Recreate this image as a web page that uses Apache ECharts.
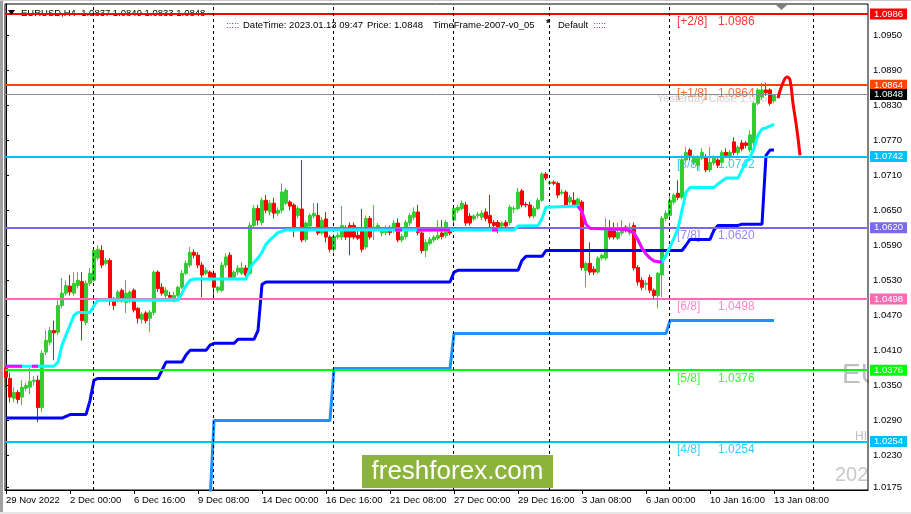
<!DOCTYPE html>
<html><head><meta charset="utf-8">
<script src="https://cdn.jsdelivr.net/npm/echarts/dist/echarts.min.js"></script>
<style>html,body{margin:0;padding:0;background:#fff}#c{width:911px;height:514px}</style>
</head><body><div id="c"></div>
<script>
// ---------------- DATA ----------------
const symbolName = 'EURUSD,H4';
const infoDateTime = 'DateTime: 2023.01.13 09:47';
const infoPrice = 'Price: 1.0848';
const infoFrame = 'TimeFrame-2007-v0_05';
const infoMode = 'Default';
const yesterdayCloseText = 'Yesterday Close 1.0853';

const xTickLabels = ['29 Nov 2022','2 Dec 00:00','6 Dec 16:00','9 Dec 08:00','14 Dec 00:00','16 Dec 16:00','21 Dec 08:00','27 Dec 00:00','29 Dec 16:00','3 Jan 08:00','6 Jan 00:00','10 Jan 16:00','13 Jan 08:00'];
const barsPerTick = 16;
const yTickValues = [1.0950,1.0890,1.0830,1.0770,1.0710,1.0650,1.0590,1.0530,1.0470,1.0410,1.0350,1.0290,1.0230,1.0175];
const weekStartBars = [22,52,82,112,136,166,202];

// H4 candles: [open, close, low, high]
const candles = [
[1.0379,1.0364,1.0347,1.0383],[1.0362,1.0330,1.0321,1.0372],[1.0328,1.0338,1.0321,1.0347],[1.0338,1.0326,1.0319,1.0342],
[1.0330,1.0347,1.0316,1.0359],[1.0345,1.0350,1.0340,1.0355],[1.0347,1.0357,1.0335,1.0381],[1.0357,1.0359,1.0350,1.0366],
[1.0359,1.0312,1.0287,1.0367],[1.0312,1.0405,1.0304,1.0410],[1.0407,1.0427,1.0402,1.0444],[1.0424,1.0444,1.0419,1.0450],
[1.0444,1.0440,1.0393,1.0461],[1.0441,1.0487,1.0436,1.0496],[1.0487,1.0508,1.0482,1.0534],[1.0508,1.0521,1.0504,1.0530],
[1.0520,1.0510,1.0504,1.0539],[1.0508,1.0525,1.0504,1.0544],[1.0521,1.0530,1.0516,1.0544],[1.0528,1.0461,1.0427,1.0544],
[1.0458,1.0525,1.0453,1.0530],[1.0525,1.0542,1.0520,1.0551],[1.0530,1.0581,1.0527,1.0587],[1.0568,1.0583,1.0564,1.0590],
[1.0581,1.0556,1.0551,1.0590],[1.0559,1.0564,1.0556,1.0568],[1.0564,1.0499,1.0487,1.0568],[1.0499,1.0487,1.0479,1.0501],
[1.0496,1.0510,1.0492,1.0513],[1.0513,1.0496,1.0492,1.0516],[1.0492,1.0508,1.0474,1.0530],[1.0496,1.0510,1.0491,1.0513],
[1.0513,1.0479,1.0475,1.0516],[1.0482,1.0465,1.0456,1.0484],[1.0463,1.0472,1.0456,1.0475],[1.0474,1.0461,1.0456,1.0477],
[1.0465,1.0475,1.0441,1.0479],[1.0475,1.0544,1.0470,1.0547],[1.0544,1.0516,1.0510,1.0547],[1.0518,1.0508,1.0504,1.0525],
[1.0504,1.0513,1.0499,1.0518],[1.0504,1.0501,1.0496,1.0510],[1.0494,1.0504,1.0492,1.0510],[1.0504,1.0518,1.0501,1.0521],
[1.0518,1.0542,1.0515,1.0547],[1.0542,1.0559,1.0539,1.0564],[1.0556,1.0578,1.0552,1.0587],[1.0578,1.0573,1.0568,1.0583],
[1.0573,1.0556,1.0551,1.0578],[1.0556,1.0539,1.0501,1.0561],[1.0542,1.0547,1.0539,1.0552],[1.0544,1.0535,1.0530,1.0547],
[1.0542,1.0518,1.0504,1.0547],[1.0513,1.0518,1.0508,1.0521],[1.0513,1.0556,1.0510,1.0561],[1.0556,1.0570,1.0552,1.0576],
[1.0573,1.0535,1.0530,1.0578],[1.0535,1.0544,1.0530,1.0547],[1.0544,1.0551,1.0539,1.0556],[1.0542,1.0551,1.0539,1.0561],
[1.0551,1.0539,1.0535,1.0556],[1.0542,1.0624,1.0539,1.0629],[1.0624,1.0653,1.0619,1.0659],[1.0653,1.0633,1.0624,1.0659],
[1.0629,1.0667,1.0624,1.0672],[1.0667,1.0650,1.0645,1.0676],[1.0647,1.0662,1.0641,1.0667],[1.0662,1.0645,1.0636,1.0671],
[1.0645,1.0650,1.0640,1.0655],[1.0650,1.0681,1.0645,1.0696],[1.0662,1.0684,1.0659,1.0688],[1.0664,1.0657,1.0650,1.0667],
[1.0659,1.0621,1.0604,1.0662],[1.0641,1.0653,1.0636,1.0657],[1.0652,1.0599,1.0595,1.0736],[1.0600,1.0628,1.0595,1.0631],
[1.0623,1.0641,1.0619,1.0645],[1.0640,1.0645,1.0636,1.0662],[1.0641,1.0611,1.0607,1.0662],[1.0611,1.0633,1.0607,1.0638],
[1.0635,1.0604,1.0595,1.0647],[1.0604,1.0583,1.0578,1.0607],[1.0583,1.0605,1.0578,1.0609],[1.0604,1.0607,1.0600,1.0612],
[1.0604,1.0624,1.0599,1.0657],[1.0619,1.0604,1.0599,1.0624],[1.0624,1.0604,1.0573,1.0629],[1.0624,1.0604,1.0600,1.0629],
[1.0607,1.0602,1.0599,1.0616],[1.0619,1.0583,1.0578,1.0652],[1.0587,1.0636,1.0583,1.0641],[1.0636,1.0604,1.0600,1.0640],
[1.0616,1.0621,1.0599,1.0659],[1.0619,1.0624,1.0616,1.0628],[1.0611,1.0616,1.0605,1.0621],[1.0612,1.0619,1.0607,1.0624],
[1.0619,1.0612,1.0607,1.0624],[1.0616,1.0628,1.0611,1.0633],[1.0628,1.0599,1.0595,1.0636],[1.0599,1.0605,1.0595,1.0609],
[1.0605,1.0629,1.0600,1.0633],[1.0628,1.0641,1.0623,1.0645],[1.0638,1.0647,1.0633,1.0655],[1.0647,1.0612,1.0607,1.0659],
[1.0611,1.0581,1.0576,1.0616],[1.0581,1.0595,1.0570,1.0600],[1.0593,1.0600,1.0590,1.0604],[1.0599,1.0604,1.0595,1.0607],
[1.0602,1.0607,1.0599,1.0633],[1.0611,1.0605,1.0600,1.0633],[1.0607,1.0629,1.0602,1.0633],[1.0616,1.0611,1.0607,1.0621],
[1.0633,1.0653,1.0628,1.0659],[1.0650,1.0655,1.0645,1.0659],[1.0653,1.0662,1.0650,1.0667],[1.0659,1.0628,1.0623,1.0664],
[1.0640,1.0628,1.0624,1.0645],[1.0635,1.0640,1.0631,1.0643],[1.0641,1.0643,1.0636,1.0647],[1.0638,1.0645,1.0633,1.0650],
[1.0647,1.0636,1.0631,1.0653],[1.0641,1.0628,1.0621,1.0676],[1.0629,1.0624,1.0619,1.0633],[1.0629,1.0616,1.0611,1.0633],
[1.0623,1.0628,1.0619,1.0631],[1.0629,1.0623,1.0619,1.0633],[1.0629,1.0655,1.0624,1.0659],[1.0652,1.0653,1.0645,1.0657],
[1.0653,1.0681,1.0650,1.0688],[1.0683,1.0659,1.0655,1.0686],[1.0660,1.0659,1.0655,1.0664],[1.0659,1.0640,1.0636,1.0664],
[1.0640,1.0653,1.0636,1.0657],[1.0653,1.0667,1.0650,1.0671],[1.0667,1.0712,1.0664,1.0715],[1.0712,1.0705,1.0701,1.0715],
[1.0696,1.0698,1.0693,1.0701],[1.0698,1.0696,1.0693,1.0701],[1.0696,1.0676,1.0671,1.0699],[1.0679,1.0681,1.0676,1.0686],
[1.0681,1.0659,1.0655,1.0684],[1.0664,1.0672,1.0660,1.0676],[1.0667,1.0659,1.0655,1.0681],[1.0659,1.0669,1.0655,1.0672],
[1.0664,1.0552,1.0547,1.0667],[1.0547,1.0559,1.0518,1.0562],[1.0559,1.0544,1.0539,1.0595],[1.0549,1.0544,1.0539,1.0554],
[1.0544,1.0568,1.0541,1.0571],[1.0568,1.0573,1.0564,1.0576],[1.0568,1.0616,1.0564,1.0636],[1.0616,1.0604,1.0600,1.0633],
[1.0616,1.0604,1.0600,1.0629],[1.0602,1.0612,1.0599,1.0629],[1.0611,1.0616,1.0607,1.0633],[1.0621,1.0616,1.0612,1.0624],
[1.0611,1.0619,1.0607,1.0628],[1.0624,1.0551,1.0547,1.0629],[1.0552,1.0527,1.0521,1.0556],[1.0530,1.0518,1.0513,1.0535],
[1.0523,1.0525,1.0513,1.0530],[1.0535,1.0513,1.0508,1.0540],[1.0513,1.0504,1.0496,1.0516],[1.0504,1.0542,1.0482,1.0544],
[1.0539,1.0636,1.0501,1.0640],[1.0636,1.0645,1.0631,1.0650],[1.0641,1.0667,1.0636,1.0674],[1.0664,1.0676,1.0660,1.0679],
[1.0679,1.0672,1.0667,1.0701],[1.0672,1.0736,1.0669,1.0744],[1.0736,1.0749,1.0732,1.0758],[1.0753,1.0744,1.0736,1.0756],
[1.0732,1.0739,1.0727,1.0744],[1.0727,1.0739,1.0719,1.0744],[1.0739,1.0749,1.0736,1.0756],[1.0741,1.0719,1.0715,1.0746],
[1.0719,1.0732,1.0715,1.0758],[1.0731,1.0739,1.0727,1.0744],[1.0736,1.0727,1.0722,1.0739],[1.0732,1.0749,1.0729,1.0753],
[1.0749,1.0744,1.0739,1.0756],[1.0741,1.0749,1.0736,1.0753],[1.0767,1.0749,1.0744,1.0775],[1.0749,1.0758,1.0744,1.0761],
[1.0765,1.0755,1.0751,1.0770],[1.0765,1.0761,1.0756,1.0768],[1.0753,1.0779,1.0749,1.0787],[1.0765,1.0833,1.0760,1.0836],
[1.0833,1.0856,1.0830,1.0859],[1.0844,1.0856,1.0839,1.0868],[1.0856,1.0851,1.0846,1.0868],[1.0856,1.0833,1.0829,1.0859],
[1.0837,1.0848,1.0833,1.0849]
];

// Murrey math levels
const levelNames = ['[+2/8]','[+1/8]','[8/8]','[7/8]','[6/8]','[5/8]','[4/8]'];
const levelValues = [1.0986,1.0864,1.0742,1.0620,1.0498,1.0376,1.0254];
const bidPrice = 1.0848;

// indicator lines: [bar index, price]
const trendLine = [[0,1.0383],[12,1.0383],[13,1.0390],[14,1.0419],[15,1.0436],[16,1.0453],[17,1.0470],[18,1.0475],[21,1.0475],[22,1.0487],[23,1.0496],[43,1.0496],[44,1.0508],[45,1.0521],[46,1.0530],[47,1.0532],[60,1.0532],[61,1.0551],[62,1.0561],[63,1.0568],[64,1.0578],[65,1.0592],[66,1.0599],[67,1.0605],[68,1.0612],[69,1.0614],[70,1.0616],[127,1.0616],[128,1.0623],[133,1.0624],[134,1.0636],[135,1.0655],[143,1.0657],[144,1.0647],[145,1.0626],[146,1.0619],[155,1.0617],[157,1.0611],[158,1.0599],[159,1.0585],[160,1.0575],[161,1.0568],[162,1.0563],[164,1.0561],[165,1.0573],[166,1.0587],[167,1.0602],[168,1.0619],[169,1.0650],[170,1.0681],[171,1.0689],[177,1.0689],[178,1.0695],[179,1.0700],[180,1.0705],[183,1.0705],[184,1.0719],[185,1.0732],[186,1.0741],[187,1.0756],[188,1.0779],[189,1.0789],[190,1.0791],[191,1.0794],[192,1.0797]];
const trendDownParts = [
  [[0,1.0383],[4,1.0383]],
  [[6.5,1.0383],[8,1.0383]],
  [[97.25,1.0616],[99,1.0616]],
  [[102.75,1.0616],[111,1.0616]],
  [[121.5,1.0616],[123,1.0616]],
  [[143,1.0657],[144,1.0647],[145,1.0626],[146,1.0619],[155,1.0617],[157,1.0611],[158,1.0599],[159,1.0585],[160,1.0575],[161,1.0568],[162,1.0563],[164,1.0561]]
];
const stopLine = [[0,1.0294],[14,1.0294],[15,1.0297],[16,1.0300],[20,1.0300],[21,1.0324],[22,1.0359],[23,1.0362],[38,1.0362],[39,1.0376],[40,1.0390],[44,1.0390],[45,1.0402],[46,1.0410],[50,1.0410],[51,1.0419],[52,1.0422],[57,1.0422],[58,1.0429],[62,1.0429],[63,1.0444],[64,1.0523],[65,1.0527],[111,1.0527],[112,1.0544],[113,1.0547],[128,1.0547],[129,1.0564],[130,1.0571],[134,1.0571],[135,1.0581],[169,1.0581],[170,1.0590],[171,1.0600],[176,1.0600],[177,1.0616],[178,1.0624],[183,1.0624],[184,1.0626],[189,1.0626],[190,1.0744],[191,1.0753],[192,1.0753]];
const slowStopLine = [[51,1.0150],[52,1.0290],[81,1.0290],[82,1.0379],[111,1.0379],[112,1.0439],[165,1.0439],[166,1.0461],[192,1.0461]];
const forecastLine = [[193,1.0842],[194,1.0864],[195.25,1.0878],[196,1.0873],[196.75,1.0833],[197.75,1.0787],[198.5,1.0744]];

// ---------------- STYLE ----------------
const levelColors = ['#ff0000','#ff4500','#00bfff','#7b68ee','#ff69b4','#00ff00','#00bfff'];
const FONT = '"Liberation Sans", Arial, sans-serif';
const X_MIN = -0.25, X_MAX = 215.5, Y_MIN = 1.01709, Y_MAX = 1.10031;
const NAME_X = 167.75, VALUE_X = 178, YC_X = 162.75;

const chart = echarts.init(document.getElementById('c'), null, {renderer:'canvas', width:911, height:514});
const xTickIdx = xTickLabels.map((_, k) => k * barsPerTick);
const last = candles[candles.length - 1];
const headerText = symbolName + '  ' + [last[0], last[3], last[2], last[1]].map(v => v.toFixed(4)).join(' ');

const downData = [];
trendDownParts.forEach((part, k) => {
  if (k > 0) downData.push([part[0][0] - 0.01, null]);
  part.forEach(p => downData.push(p));
});

const boxLabel = (text, bg) => ({
  show: true, position: 'end', distance: 2, formatter: text, color: '#fff',
  backgroundColor: bg, padding: [1, 4, 0, 4], lineHeight: 10, fontSize: 9.5, fontFamily: FONT
});
const lineMarks = levelValues.map((v, k) => ({
  yAxis: v,
  lineStyle: {color: levelColors[k], width: 2, type: 'solid'},
  label: boxLabel(v.toFixed(4), levelColors[k])
}));
lineMarks.push({
  yAxis: bidPrice,
  lineStyle: {color: '#8c8c8c', width: 1, type: 'solid'},
  label: boxLabel(bidPrice.toFixed(4), '#000')
});
const sepMarks = weekStartBars.map(b => ({
  xAxis: b - 0.25,
  lineStyle: {color: '#000', width: 1, type: [3, 3]},
  label: {show: false}
}));

const lineSeries = (data, color, z, extra) => Object.assign({
  type: 'line', data: data, showSymbol: false, symbol: 'none', z: z,
  lineStyle: {color: color, width: 3}, itemStyle: {color: color}, connectNulls: false, silent: true
}, extra || {});

const option = {
  animation: false,
  backgroundColor: '#ffffff',
  grid: {left: 5, right: 43, top: 4, bottom: 24, show: true, borderColor: '#000', borderWidth: 1},
  xAxis: {
    type: 'value', min: X_MIN, max: X_MAX,
    axisLine: {show: true, lineStyle: {color: '#000', width: 1}},
    axisTick: {show: true, customValues: xTickIdx, length: 4, lineStyle: {color: '#000'}},
    axisLabel: {show: true, customValues: xTickIdx, align: 'left', margin: 5, color: '#000', fontSize: 9.5, fontFamily: FONT,
      formatter: v => xTickLabels[Math.round(v / barsPerTick)] || ''},
    splitLine: {show: false}
  },
  yAxis: {
    type: 'value', position: 'right', min: Y_MIN, max: Y_MAX,
    axisLine: {show: true, lineStyle: {color: '#000', width: 1}},
    axisTick: {show: true, customValues: yTickValues, length: 3, lineStyle: {color: '#000'}},
    axisLabel: {show: true, customValues: yTickValues, margin: 5, color: '#000', fontSize: 9.5, fontFamily: FONT,
      formatter: v => v.toFixed(4)},
    splitLine: {show: false}
  },
  series: [
    { // level captions (drawn under candles)
      type: 'scatter', z: 1, symbolSize: 0, silent: true,
      data: levelValues.map((v, k) => ({value: [NAME_X, v], label: {color: levelColors[k]}})),
      label: {show: true, position: 'right', distance: 0, offset: [0, 8], fontSize: 12, fontFamily: FONT,
        formatter: p => levelNames[p.dataIndex]}
    },
    {
      type: 'scatter', z: 1, symbolSize: 0, silent: true,
      data: levelValues.map((v, k) => ({value: [VALUE_X, v], label: {color: levelColors[k]}})),
      label: {show: true, position: 'right', distance: 0, offset: [0, 8], fontSize: 12, fontFamily: FONT,
        formatter: p => levelValues[p.dataIndex].toFixed(4)}
    },
    {
      type: 'scatter', z: 1, symbolSize: 0, silent: true,
      data: [[YC_X, bidPrice]],
      label: {show: true, position: 'right', distance: 0, offset: [0, 4], fontSize: 11, fontFamily: FONT,
        color: '#c4c4c4', formatter: yesterdayCloseText}
    },
    {
      type: 'candlestick', z: 2, barWidth: 3, silent: true,
      data: candles.map((c, i) => [i, c[0], c[1], c[2], c[3]]),
      encode: {x: 0, y: [1, 2, 3, 4]},
      itemStyle: {color: '#32cd32', color0: '#ff0000', borderColor: '#32cd32', borderColor0: '#ff0000', borderWidth: 1}
    },
    { // horizontal levels + period separators
      type: 'line', z: 3, data: [[X_MIN, bidPrice]], symbol: 'none', lineStyle: {width: 0}, silent: true,
      markLine: {silent: true, precision: 4, symbol: ['none', 'none'], animation: false, data: lineMarks.concat(sepMarks)}
    },
    lineSeries(slowStopLine, '#1e90ff', 4),
    lineSeries(stopLine, '#0000ff', 4),
    lineSeries(trendLine, '#00ffff', 5),
    lineSeries(downData, '#ff00ff', 6),
    lineSeries(forecastLine, '#ff0000', 6, {smooth: 0.4})
  ],
  graphic: [
    {type: 'text', z: -2, x: 842, y: 375, style: {text: 'EU', fill: '#c0c0c0', font: '28px ' + FONT, textVerticalAlign: 'middle', verticalAlign: 'middle'}},
    {type: 'text', z: -2, x: 855, y: 437, style: {text: 'HI', fill: '#c0c0c0', font: '12px ' + FONT, textVerticalAlign: 'middle', verticalAlign: 'middle'}},
    {type: 'text', z: -2, x: 835, y: 475, style: {text: '2023', fill: '#c8c8c8', font: '20px ' + FONT, textVerticalAlign: 'middle', verticalAlign: 'middle'}},
    {type: 'rect', z: -1, shape: {x: 869, y: 0, width: 42, height: 514}, style: {fill: '#ffffff'}},
    {type: 'rect', z: 10, shape: {x: 0, y: 0, width: 3, height: 514}, style: {fill: '#a0a0a0'}},
    {type: 'rect', z: 10, shape: {x: 0, y: 512, width: 911, height: 2}, style: {fill: '#e6e6e6'}},
    {type: 'rect', z: 10, shape: {x: 0, y: 0, width: 911, height: 1}, style: {fill: '#c8c8c8'}},
    {type: 'polygon', z: 10, shape: {points: [[8, 10], [15, 10], [11.5, 15]]}, style: {fill: '#000'}},
    {type: 'polygon', z: 10, shape: {points: [[776, 5], [787, 5], [781.5, 10]]}, style: {fill: '#7f7f7f'}},
    {type: 'text', z: 1, x: 21, y: 13, style: {text: headerText, fill: '#000', font: '9.5px ' + FONT, textVerticalAlign: 'middle', verticalAlign: 'middle'}},
    {type: 'text', z: 1, x: 226, y: 25, style: {text: ':::::', fill: '#6a2c8a', font: '9.5px ' + FONT, textVerticalAlign: 'middle', verticalAlign: 'middle'}},
    {type: 'text', z: 1, x: 243, y: 25, style: {text: infoDateTime, fill: '#000', font: '9.5px ' + FONT, textVerticalAlign: 'middle', verticalAlign: 'middle'}},
    {type: 'text', z: 1, x: 367, y: 25, style: {text: infoPrice, fill: '#000', font: '9.5px ' + FONT, textVerticalAlign: 'middle', verticalAlign: 'middle'}},
    {type: 'text', z: 1, x: 433, y: 25, style: {text: infoFrame, fill: '#000', font: '9.5px ' + FONT, textVerticalAlign: 'middle', verticalAlign: 'middle'}},
    {type: 'text', z: 1, x: 546, y: 24, style: {text: '*', fill: '#000', font: 'bold 11px ' + FONT, textVerticalAlign: 'middle', verticalAlign: 'middle'}},
    {type: 'text', z: 1, x: 558, y: 25, style: {text: infoMode, fill: '#000', font: '9.5px ' + FONT, textVerticalAlign: 'middle', verticalAlign: 'middle'}},
    {type: 'text', z: 1, x: 593, y: 25, style: {text: ':::::', fill: '#6a2c8a', font: '9.5px ' + FONT, textVerticalAlign: 'middle', verticalAlign: 'middle'}},
    {type: 'rect', z: 10, shape: {x: 362, y: 455, width: 191, height: 33}, style: {fill: '#8cb43c'}},
    {type: 'text', z: 11, x: 457.5, y: 472, style: {text: 'freshforex.com', fill: '#ffffff', font: '26px ' + FONT, textAlign: 'center', align: 'center', textVerticalAlign: 'middle', verticalAlign: 'middle'}}
  ]
};
chart.setOption(option);
</script>
</body></html>
